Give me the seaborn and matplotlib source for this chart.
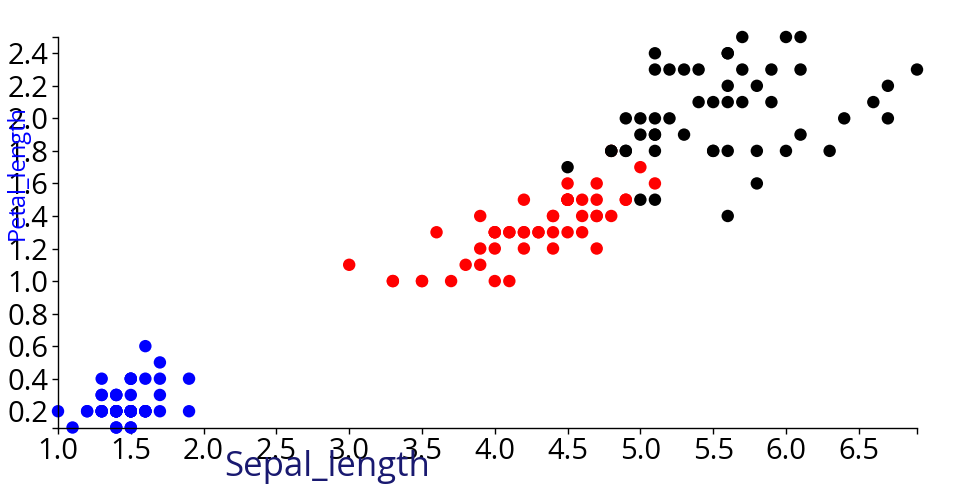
import numpy as np
import pandas as pd
import matplotlib
matplotlib.use("Agg")
import matplotlib.pyplot as plt
import seaborn as sns

# --- Data (iris: petal length / petal width per species) --- #
setosa_x = [1.4, 1.4, 1.3, 1.5, 1.4, 1.7, 1.4, 1.5, 1.4, 1.5,
            1.5, 1.6, 1.4, 1.1, 1.2, 1.5, 1.3, 1.4, 1.7, 1.5,
            1.7, 1.5, 1.0, 1.7, 1.9, 1.6, 1.6, 1.5, 1.4, 1.6,
            1.6, 1.5, 1.5, 1.4, 1.5, 1.2, 1.3, 1.4, 1.3, 1.5,
            1.3, 1.3, 1.3, 1.6, 1.9, 1.4, 1.6, 1.4, 1.5, 1.4]
setosa_y = [0.2, 0.2, 0.2, 0.2, 0.2, 0.4, 0.3, 0.2, 0.2, 0.1,
            0.2, 0.2, 0.1, 0.1, 0.2, 0.4, 0.4, 0.3, 0.3, 0.3,
            0.2, 0.4, 0.2, 0.5, 0.2, 0.2, 0.4, 0.2, 0.2, 0.2,
            0.2, 0.4, 0.1, 0.2, 0.2, 0.2, 0.2, 0.1, 0.2, 0.2,
            0.3, 0.3, 0.2, 0.6, 0.4, 0.3, 0.2, 0.2, 0.2, 0.2]
versicolor_x = [4.7, 4.5, 4.9, 4.0, 4.6, 4.5, 4.7, 3.3, 4.6, 3.9,
                3.5, 4.2, 4.0, 4.7, 3.6, 4.4, 4.5, 4.1, 4.5, 3.9,
                4.8, 4.0, 4.9, 4.7, 4.3, 4.4, 4.8, 5.0, 4.5, 3.5,
                3.8, 3.7, 3.9, 5.1, 4.5, 4.5, 4.7, 4.4, 4.1, 4.0,
                4.4, 4.6, 4.0, 3.3, 4.2, 4.2, 4.2, 4.3, 3.0, 4.1]
versicolor_y = [1.4, 1.5, 1.5, 1.3, 1.5, 1.3, 1.6, 1.0, 1.3, 1.4,
                1.0, 1.5, 1.0, 1.4, 1.3, 1.4, 1.5, 1.0, 1.5, 1.1,
                1.8, 1.3, 1.5, 1.2, 1.3, 1.4, 1.4, 1.7, 1.5, 1.0,
                1.1, 1.0, 1.2, 1.6, 1.5, 1.6, 1.5, 1.3, 1.3, 1.3,
                1.2, 1.4, 1.2, 1.0, 1.3, 1.2, 1.3, 1.3, 1.1, 1.3]
virginica_x = [6.0, 5.1, 5.9, 5.6, 5.8, 6.6, 4.5, 6.3, 5.8, 6.1,
               5.1, 5.3, 5.5, 5.0, 5.1, 5.3, 5.5, 6.7, 6.9, 5.0,
               5.7, 4.9, 6.7, 4.9, 5.7, 6.0, 4.8, 4.9, 5.6, 5.8,
               6.1, 6.4, 5.6, 5.1, 5.6, 6.1, 5.6, 5.5, 4.8, 5.4,
               5.6, 5.1, 5.1, 5.9, 5.7, 5.2, 5.0, 5.2, 5.4, 5.1]
virginica_y = [2.5, 1.9, 2.1, 1.8, 2.2, 2.1, 1.7, 1.8, 1.8, 2.5,
               2.0, 1.9, 2.1, 2.0, 2.4, 2.3, 1.8, 2.2, 2.3, 1.5,
               2.3, 2.0, 2.0, 1.8, 2.1, 1.8, 1.8, 1.8, 2.1, 1.6,
               1.9, 2.0, 2.2, 1.5, 1.4, 2.3, 2.4, 1.8, 1.8, 2.1,
               2.4, 2.3, 1.9, 2.3, 2.5, 2.3, 1.9, 2.0, 2.3, 1.8]

species = ["setosa", "versicolor", "virginica"]
colors = ["#0000ff", "#ff0000", "#000000"]

df = pd.DataFrame({
    "x": setosa_x + versicolor_x + virginica_x,
    "y": setosa_y + versicolor_y + virginica_y,
    "species": ["setosa"] * len(setosa_x) + ["versicolor"] * len(versicolor_x)
               + ["virginica"] * len(virginica_x),
})

x_ticks = [1.0, 1.5, 2.0, 2.5, 3.0, 3.5, 4.0, 4.5, 5.0, 5.5, 6.0, 6.5]
y_ticks = [0.2, 0.4, 0.6, 0.8, 1.0, 1.2, 1.4, 1.6, 1.8, 2.0, 2.2, 2.4]

# --- Plot --- #
sns.set_style("white")
plt.rcParams["font.family"] = ["Open Sans", "DejaVu Sans"]

fig = plt.figure(figsize=(9.6, 5), dpi=100)
ax = fig.add_axes([58 / 960, 1 - 427.5 / 500, (917 - 58) / 960, (427.5 - 37) / 500])

sns.scatterplot(data=df, x="x", y="y", hue="species", hue_order=species,
                palette=colors, s=80, edgecolor="none", linewidth=0,
                legend=False, clip_on=False, ax=ax)

ax.set_xlim(1.0, 6.9)
ax.set_ylim(0.1, 2.5)
ax.set_xticks(x_ticks)
ax.set_yticks(y_ticks)
ax.set_xticklabels([f"{t:.1f}" for t in x_ticks])
ax.set_yticklabels([f"{t:.1f}" for t in y_ticks])
# outer ticks at the ends of each axis
ax.set_xticks([6.9], minor=True)
ax.set_yticks([0.1, 2.5], minor=True)
ax.tick_params(which="both", direction="out", length=4, width=1, color="black",
               labelcolor="black", labelsize=21, pad=3, bottom=True, left=True)

for side in ["top", "right"]:
    ax.spines[side].set_visible(False)
for side in ["left", "bottom"]:
    ax.spines[side].set_color("black")
    ax.spines[side].set_linewidth(1)

ax.set_xlabel("")
ax.set_ylabel("")
fig.text(327 / 960, 1 - 467 / 500, "Sepal_length", color="#191970",
         fontsize=25, ha="center", va="center")
fig.text(18 / 960, 1 - 173 / 500, "Petal_length", color="#0000ff",
         fontsize=17, rotation=90, ha="center", va="center")

fig.savefig("out.png", dpi=100)
